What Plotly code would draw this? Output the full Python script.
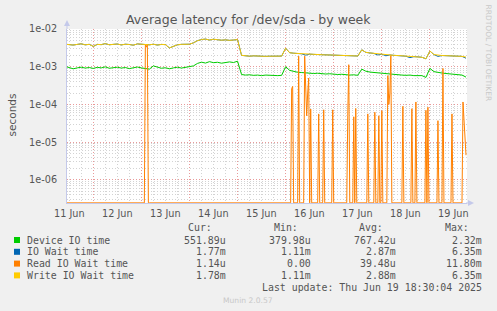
import numpy as np
import pandas as pd
import plotly.graph_objects as go

# ---------------- data ----------------
sample_start = "2025-06-11 10:00"          # regular 2-hour samples
sample_freq = "2h"

device_ms = [
    1.02, 0.95, 0.88, 0.93, 0.97, 0.92, 0.95, 0.90, 0.96, 0.93, 0.99, 0.91, 0.94,
    0.97, 0.92, 0.95, 0.89, 0.94, 0.98, 0.93, 0.90, 0.86, 1.05, 0.96, 0.91, 0.94,
    0.88, 0.93, 0.97, 0.92, 0.95, 0.99, 1.05,
    1.22, 1.32, 1.25, 1.36, 1.28, 1.31, 1.24, 1.30, 1.34, 1.29, 1.40,
    0.62, 0.60, 0.61, 0.59, 0.60, 0.58, 0.60, 0.59, 0.60, 0.58, 0.59,
    1.00,
    0.80, 0.74, 0.71, 0.70, 0.68, 0.68, 0.66, 0.67, 0.65, 0.64, 0.65, 0.63, 0.62,
    0.63, 0.61, 0.60, 0.61, 0.59,
    0.86,
    0.76, 0.72, 0.70, 0.68, 0.67, 0.65, 0.64, 0.62, 0.61, 0.60, 0.59, 0.60, 0.58,
    0.57, 0.58,
    0.52,
    0.90,
    0.74, 0.70, 0.68, 0.66, 0.65, 0.63, 0.62, 0.60, 0.53,
]

write_ms = [
    3.95, 3.85, 3.75, 3.90, 4.05, 3.80, 3.92, 3.45, 3.90, 3.85, 4.10, 3.82, 3.90,
    4.00, 3.78, 3.95, 3.88, 3.72, 4.02, 3.90, 3.85, 3.80, 3.95, 3.75, 3.90, 3.85,
    3.15, 3.45, 3.80, 3.92, 3.85, 3.95, 4.30,
    4.90, 5.25, 5.40, 5.10, 5.35, 5.20, 5.05, 5.15, 5.00, 5.10, 5.25,
    2.00, 1.95, 1.90, 1.94, 1.90, 1.92, 1.88, 1.90, 1.93, 1.89, 1.91,
    3.10,
    2.35, 2.28, 2.24, 2.20, 2.18, 2.15, 2.12, 2.10, 2.08, 2.05, 2.05, 2.02, 2.00,
    2.00, 1.97, 1.95, 1.95, 1.92,
    2.80,
    2.40, 2.32, 2.25, 2.20, 2.15, 2.10, 2.05, 2.00, 1.98, 1.95, 1.90, 1.88, 1.85,
    1.82, 1.78,
    1.62,
    2.60,
    2.10, 2.02, 1.98, 1.96, 1.95, 1.92, 1.90, 1.88, 1.80,
]

iowait_ms = [
    3.95, 3.85, 3.75, 3.90, 4.05, 3.80, 3.92, 3.45, 3.90, 3.85, 4.10, 3.82, 3.90,
    4.00, 3.78, 3.95, 3.88, 3.72, 4.02, 3.90, 3.85, 3.80, 3.95, 3.75, 3.90, 3.85,
    3.15, 3.45, 3.80, 3.92, 3.85, 3.95, 4.30,
    4.90, 5.25, 5.40, 5.10, 5.35, 5.20, 5.05, 5.15, 5.00, 5.10, 5.25,
    2.00, 1.95, 1.90, 1.94, 1.90, 1.92, 1.88, 1.90, 1.93, 1.89, 1.91,
    3.10,
    2.35, 2.28, 2.24, 2.20, 2.03, 2.15, 2.12, 2.10, 2.08, 2.05, 2.05, 2.02, 2.00,
    2.00, 1.97, 1.95, 1.95, 1.92,
    2.80,
    2.40, 2.32, 2.25, 2.05, 2.15, 1.95, 2.05, 2.00, 1.98, 1.95, 1.90, 1.74, 1.85,
    1.82, 1.78,
    1.62,
    2.60,
    2.10, 1.88, 1.98, 1.96, 1.95, 1.92, 1.90, 1.88, 1.68,
]

read_freq = "30min"                       # Read IO wait: zero except these samples
read_spike_times = [
    "2025-06-13 02:00", "2025-06-13 02:30", "2025-06-13 03:00",
    "2025-06-16 03:00", "2025-06-16 03:30", "2025-06-16 06:30",
    "2025-06-16 09:30", "2025-06-16 10:00", "2025-06-16 10:30", "2025-06-16 11:00",
    "2025-06-16 11:30", "2025-06-16 12:30", "2025-06-16 16:30", "2025-06-16 19:00",
    "2025-06-16 23:30", "2025-06-17 07:00", "2025-06-17 07:30", "2025-06-17 10:00",
    "2025-06-17 11:00", "2025-06-17 17:00", "2025-06-17 20:30", "2025-06-17 22:30",
    "2025-06-18 00:00", "2025-06-18 03:00", "2025-06-18 03:30", "2025-06-18 04:00",
    "2025-06-18 04:30", "2025-06-18 10:30", "2025-06-18 15:00", "2025-06-18 17:00",
    "2025-06-18 22:00", "2025-06-18 23:00", "2025-06-19 04:00", "2025-06-19 06:30",
    "2025-06-19 11:00", "2025-06-19 16:30", "2025-06-19 17:00", "2025-06-19 17:30",
    "2025-06-19 18:00",
]
read_spike_ms = [
    3.9, 3.3, 3.9,
    0.26, 0.30, 1.9,
    1.9, 0.3, 0.05, 0.2,
    0.5, 0.075, 0.056, 0.072,
    0.072, 0.05, 1.13, 0.047,
    0.078, 0.056, 0.062, 0.05,
    0.068, 0.58, 0.1, 0.2,
    2.0, 0.089, 0.077, 0.116,
    0.07, 0.084, 0.037, 0.9,
    0.056, 0.116, 0.045, 0.02,
    0.0045,
]

day_labels = ["11 Jun", "12 Jun", "13 Jun", "14 Jun", "15 Jun",
              "16 Jun", "17 Jun", "18 Jun", "19 Jun"]
day_dates = ["2025-06-11", "2025-06-12", "2025-06-13", "2025-06-14", "2025-06-15",
             "2025-06-16", "2025-06-17", "2025-06-18", "2025-06-19"]

y_tick_vals = [1e-6, 1e-5, 1e-4, 1e-3, 1e-2]
y_tick_text = ["1e-06", "1e-05", "1e-04", "1e-03", "1e-02"]

series_names = ["Device IO time", "IO Wait time", "Read IO Wait time", "Write IO Wait time"]
series_colors = ["#00cc00", "#0066b3", "#ff8000", "#ffcc00"]
cur_vals = ["551.89u", "1.77m", "1.14u", "1.78m"]
min_vals = ["379.98u", "1.11m", "0.00", "1.11m"]
avg_vals = ["767.42u", "2.87m", "39.48u", "2.88m"]
max_vals = ["2.32m", "6.35m", "11.80m", "6.35m"]

title_text = "Average latency for /dev/sda - by week"
y_title = "seconds"
last_update = "Last update: Thu Jun 19 18:30:04 2025"
footer = "Munin 2.0.57"
side_text = "RRDTOOL / TOBI OETIKER"

# ---------------- geometry ----------------
W, H = 497, 311
ML, MR, MT, MB = 67, 30, 29, 108
PW, PH = W - ML - MR, H - MT - MB
X_RANGE = ["2025-06-11 10:54", "2025-06-19 18:30"]
Y_LOG = [-6.615, -2.0]


def px(x):
    return (x - ML) / PW


def py(y):
    return (H - MB - y) / PH


# ---------------- build series ----------------
t2 = pd.date_range(sample_start, periods=len(device_ms), freq=sample_freq)
t_read = pd.date_range(sample_start, t2[-1], freq=read_freq)
read = pd.Series(0.0, index=t_read)
read.loc[pd.to_datetime(read_spike_times)] = read_spike_ms
floor = 10 ** (Y_LOG[0] + 0.004)
read_s = np.where(read.values > 0, read.values * 1e-3, floor)

fig = go.Figure()
line_data = [
    (t2, np.array(device_ms) * 1e-3),
    (t2, np.array(iowait_ms) * 1e-3),
    (t_read, read_s),
    (t2, np.array(write_ms) * 1e-3),
]
for (xx, yy), name, col in zip(line_data, series_names, series_colors):
    fig.add_trace(go.Scatter(x=xx, y=yy, mode="lines", name=name,
                             line=dict(color=col, width=1),
                             showlegend=False, hoverinfo="skip"))

MAJOR = "#e99a9a"
MINOR = "#d3d3d3"
AXIS = "#c4c9ea"
TXT = "#555555"
DASH = "1px,2px"

noon = [pd.Timestamp(d) + pd.Timedelta(hours=12) for d in day_dates]
midnights = [pd.Timestamp(d) for d in day_dates[1:]]
minor_y = [m * 10.0 ** e for e in range(-7, -1) for m in range(2, 10)]

fig.update_layout(
    width=W, height=H,
    margin=dict(l=ML, r=MR, t=MT, b=MB, pad=0),
    paper_bgcolor="#f0f0f0", plot_bgcolor="#ffffff",
    font=dict(family="DejaVu Sans", size=10, color=TXT),
    xaxis=dict(type="date", range=X_RANGE, tickmode="array", tickvals=midnights,
               showticklabels=False, ticks="", showgrid=True, gridcolor=MAJOR,
               griddash=DASH, gridwidth=1, zeroline=False, showline=True,
               linecolor=AXIS, linewidth=1, layer="below traces", automargin=False,
               minor=dict(dtick=6 * 3600 * 1000, tick0="2025-06-11", showgrid=True,
                          gridcolor=MINOR, griddash=DASH, gridwidth=1)),
    yaxis=dict(type="log", range=Y_LOG, tickmode="array", tickvals=y_tick_vals,
               ticktext=y_tick_text, ticks="", showgrid=True, gridcolor=MAJOR,
               griddash=DASH, gridwidth=1, zeroline=False, showline=True,
               linecolor=AXIS, linewidth=1, ticklabelstandoff=7,
               tickfont=dict(size=9.7, color=TXT), automargin=False,
               layer="below traces",
               minor=dict(tickmode="array", tickvals=minor_y, showgrid=True,
                          gridcolor=MINOR, griddash=DASH, gridwidth=1)),
)

ann = []


def add_text(text, x, y, xanchor="left", size=9.9, color=TXT, family="DejaVu Sans Mono",
             angle=0):
    ann.append(dict(text=text, x=px(x), y=py(y), xref="paper", yref="paper",
                    xanchor=xanchor, yanchor="middle", showarrow=False,
                    textangle=angle, borderpad=0,
                    font=dict(family=family, size=size, color=color)))


# title, y title, side text
add_text(title_text, 248, 19.5, "center", 12.5, "#555555", "DejaVu Sans")
add_text(y_title, 11.5, 115, "center", 10.5, TXT, "DejaVu Sans", -90)
add_text(side_text, 488.5, 53, "center", 7.5, "#c8c8c8", "DejaVu Sans", 90)

# x tick labels (centred at noon of each day)
for d, lab in zip(noon, day_labels):
    ann.append(dict(text=lab, x=d, y=py(213), xref="x", yref="paper",
                    xanchor="center", yanchor="middle", showarrow=False,
                    font=dict(family="DejaVu Sans", size=9.7, color=TXT)))

# legend table
header_y = 227.7
row_y = [240.0, 251.8, 263.6, 275.4]
for txt, xr in zip(["Cur:", "Min:", "Avg:", "Max:"], [212.5, 299, 384.3, 470]):
    add_text(txt, xr, header_y, "right")
shapes = []
for i, name in enumerate(series_names):
    y = row_y[i]
    shapes.append(dict(type="rect", xref="paper", yref="paper",
                       x0=px(14), x1=px(20), y0=py(y + 3), y1=py(y - 3),
                       fillcolor=series_colors[i], line=dict(width=0)))
    add_text(name, 26, y, "left")
    add_text(cur_vals[i], 226.5, y, "right")
    add_text(min_vals[i], 312, y, "right")
    add_text(avg_vals[i], 397, y, "right")
    add_text(max_vals[i], 483, y, "right")
add_text(last_update, 483, 287.6, "right")
add_text(footer, 248, 300, "center", 7.6, "#c8c8c8", "DejaVu Sans")

# axis arrows
def tri(p1, p2, p3):
    return "M {} {} L {} {} L {} {} Z".format(px(p1[0]), py(p1[1]), px(p2[0]), py(p2[1]),
                                              px(p3[0]), py(p3[1]))


shapes.append(dict(type="line", xref="paper", yref="paper", x0=px(67), x1=px(67),
                   y0=py(29), y1=py(24), line=dict(color=AXIS, width=1)))
shapes.append(dict(type="path", xref="paper", yref="paper",
                   path=tri((67, 20), (64, 26), (70, 26)), fillcolor=AXIS,
                   line=dict(width=0)))
shapes.append(dict(type="line", xref="paper", yref="paper", x0=px(466), x1=px(469),
                   y0=py(203), y1=py(203), line=dict(color=AXIS, width=1)))
shapes.append(dict(type="path", xref="paper", yref="paper",
                   path=tri((474, 203), (468, 200), (468, 206)), fillcolor=AXIS,
                   line=dict(width=0)))

fig.update_layout(annotations=ann, shapes=shapes)
fig.write_html("out.html")
